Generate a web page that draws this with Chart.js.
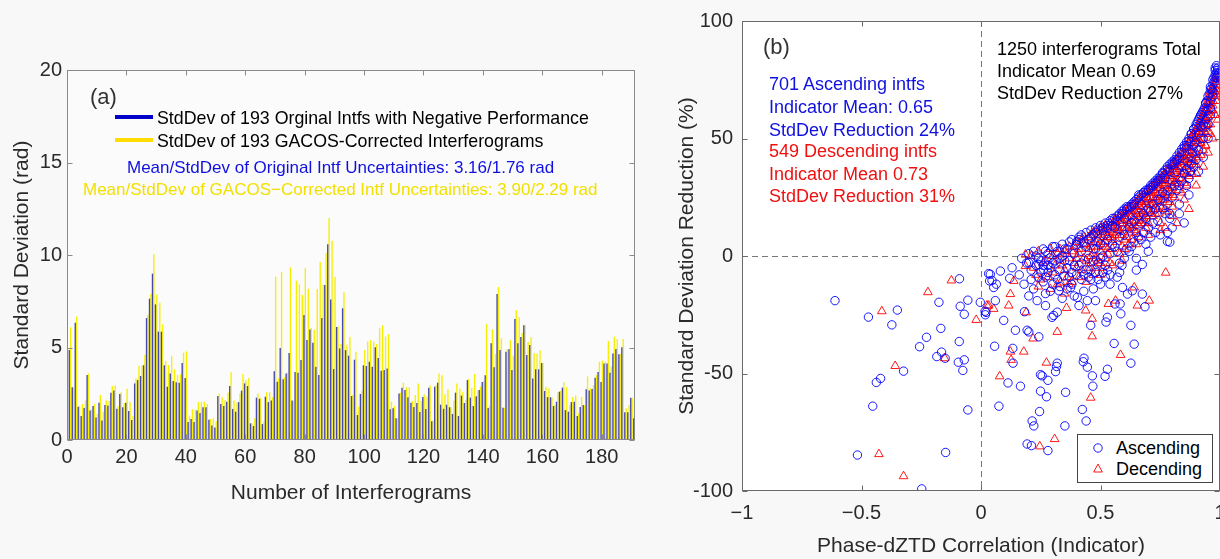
<!DOCTYPE html>
<html><head><meta charset="utf-8">
<script src="https://cdn.jsdelivr.net/npm/chart.js@4.4.1/dist/chart.umd.min.js"></script>
<style>
html,body{margin:0;padding:0;width:1220px;height:559px;overflow:hidden;background:#f8f8f8;}
canvas{position:absolute;top:0;}
#cA{left:0;}
#cB{left:640px;}
.t{position:absolute;white-space:nowrap;font-family:"Liberation Sans",Arial,Helvetica,sans-serif;line-height:1;}
.ln{position:absolute;}
</style></head>
<body>
<canvas id="cA" width="650" height="559"></canvas>
<canvas id="cB" width="600" height="559"></canvas>

<div class="t" style="left:90px;top:86px;font-size:22px;color:#333">(a)</div>
<div class="ln" style="left:115px;top:115px;width:38px;height:4px;background:#0000c8"></div>
<div class="t" style="left:157px;top:110.3px;font-size:17.8px;color:#000">StdDev of 193 Orginal Intfs with Negative Performance</div>
<div class="ln" style="left:115px;top:138px;width:38px;height:4px;background:#ffdd00"></div>
<div class="t" style="left:157px;top:132.5px;font-size:17.8px;color:#000">StdDev of 193 GACOS-Corrected Interferograms</div>
<div class="t" style="left:127px;top:158.5px;font-size:17px;color:#1010e0">Mean/StdDev of Original Intf Uncertainties: 3.16/1.76 rad</div>
<div class="t" style="left:83px;top:180.5px;font-size:17px;color:#f2e000">Mean/StdDev of GACOS−Corrected Intf Uncertainties: 3.90/2.29 rad</div>

<div class="t" style="left:763px;top:36px;font-size:22px;color:#333">(b)</div>
<div class="t" style="left:769px;top:74.5px;font-size:18px;color:#1010e0">701 Ascending intfs</div>
<div class="t" style="left:769px;top:97.9px;font-size:18px;color:#1010e0">Indicator Mean: 0.65</div>
<div class="t" style="left:769px;top:120.5px;font-size:18px;color:#1010e0">StdDev Reduction 24%</div>
<div class="t" style="left:769px;top:141.9px;font-size:18px;color:#f01010">549 Descending intfs</div>
<div class="t" style="left:769px;top:164.5px;font-size:18px;color:#f01010">Indicator Mean 0.73</div>
<div class="t" style="left:769px;top:187.2px;font-size:18px;color:#f01010">StdDev Reduction 31%</div>
<div class="t" style="left:997px;top:39.5px;font-size:18px;color:#000">1250 interferograms Total</div>
<div class="t" style="left:997px;top:61.9px;font-size:18px;color:#000">Indicator Mean 0.69</div>
<div class="t" style="left:997px;top:83.9px;font-size:18px;color:#000">StdDev Reduction 27%</div>

<div style="position:absolute;left:1077px;top:434px;width:134px;height:47px;border:1px solid #444;background:#fff"></div>
<svg style="position:absolute;left:1088px;top:438px" width="20" height="40">
<circle cx="10" cy="10" r="4.2" fill="none" stroke="#0000ff" stroke-width="0.9"/>
<polygon points="10,26 14.3,34 5.7,34" fill="none" stroke="#ff0000" stroke-width="0.9"/>
</svg>
<div class="t" style="left:1116px;top:439.2px;font-size:18px;color:#000">Ascending</div>
<div class="t" style="left:1116px;top:459.5px;font-size:18px;color:#000">Decending</div>

<script>
// ---------- DATA ----------
const origStd = [
4.86,2.85,6.34,1.8,1.3,1.73,3.51,1.59,1.84,1.21,
2.02,1.06,1.89,1.87,2.56,2.68,1.69,2.49,1.77,2.02,
1.57,1.08,3.06,3.24,3.46,4.04,6.59,7.64,8.99,7.33,
5.86,5.86,4.04,2.88,3.6,3.19,3.12,3.1,4.16,3.35,
0.97,1.14,0.97,1.6,1.46,1.77,1.77,1.1,0.79,0.67,
2.38,1.95,1.84,2.07,2.92,1.68,1.53,2.05,2.67,3.06,
2.92,0.9,0.76,2.29,2.23,0.86,2.34,2.05,2.13,3.71,
3.15,4.97,3.28,3.6,4.7,2.13,3.68,3.64,4.32,6.76,
5.41,5.97,5.26,3.96,3.51,6.59,8.38,10.58,7.6,3.84,
6.11,4.95,7.12,4.86,4.56,2.38,4.34,1.35,2.49,4.04,
4.0,4.23,3.96,5.01,4.43,3.75,3.78,3.87,1.66,1.71,
1.17,2.52,2.83,2.7,2.31,2.02,1.78,2.0,1.51,2.32,
1.68,2.83,1.01,2.88,3.1,1.91,1.69,1.91,1.77,1.41,
2.56,1.3,2.4,2.0,3.24,2.29,1.84,2.36,2.7,3.14,
3.5,1.73,5.23,3.93,7.89,4.86,1.75,4.77,4.9,3.78,
6.54,5.23,5.57,6.2,4.59,5.14,3.33,3.82,3.82,4.16,
2.65,2.32,2.31,1.84,2.07,2.61,2.83,1.62,1.53,2.05,
2.07,1.3,1.78,1.89,2.74,2.68,2.76,3.37,3.68,3.14,
4.14,4.14,3.64,4.68,4.92,4.63,5.01,1.5,1.5,2.29,
1.17,1.2,1.3];
const gacosStd = [
6.09,2.85,6.67,1.84,1.95,2.14,3.6,1.66,1.95,1.41,
2.43,1.53,2.14,2.11,2.92,2.95,1.82,2.58,2.0,2.77,
2.05,1.3,3.32,4.0,4.04,4.61,6.77,7.91,10.05,7.87,
7.42,6.25,4.29,4.05,4.54,3.82,3.5,3.55,4.72,4.79,
1.32,1.66,1.64,2.05,2.07,2.07,1.95,1.14,1.17,1.03,
2.52,2.31,2.16,2.56,3.68,2.13,2.02,2.52,3.57,3.21,
3.35,0.9,1.17,2.52,2.27,0.99,2.58,2.58,2.32,8.83,
3.32,9.08,3.39,3.64,9.33,2.13,8.61,8.41,7.84,9.3,
8.18,6.07,5.96,8.16,9.62,8.41,10.09,12.0,10.77,8.81,
6.14,5.19,7.98,5.15,5.57,2.43,4.77,1.8,2.67,4.86,
5.33,5.41,5.32,5.19,6.04,6.2,5.59,5.71,2.07,1.84,
1.17,2.56,3.1,2.85,2.85,2.11,2.43,3.06,2.11,2.47,
2.34,2.95,1.05,2.97,3.6,3.5,2.47,2.74,1.77,2.14,
3.06,2.77,2.58,2.16,3.3,2.81,3.57,2.68,2.88,3.19,
6.27,1.84,5.98,4.65,8.27,5.5,1.75,4.92,5.4,4.56,
7.01,6.63,5.78,6.22,5.3,5.57,4.7,4.68,4.85,4.16,
2.88,2.79,2.31,1.89,2.58,2.67,3.14,2.86,1.89,2.32,
2.4,1.44,2.32,1.89,3.44,2.79,2.97,3.51,4.23,4.29,
4.23,5.35,3.98,5.59,5.46,4.65,5.46,1.71,1.89,2.29,
1.46,1.5,1.6];
const leftXTicks = [0,20,40,60,80,100,120,140,160,180];
const leftYTicks = [0,5,10,15,20];

// [indicator, reduction %]
const ascending = [
[-0.611,-19.0],[-0.471,-26.0],[-0.373,-29.3],[-0.350,-23.0],[-0.228,-34.6],[-0.257,-38.6],[-0.176,-19.7],[-0.168,-30.8],
[-0.165,-40.9],[-0.185,-42.8],[-0.150,-43.5],[-0.090,-9.7],[-0.087,-21.4],[-0.070,-24.8],[-0.055,-18.8],[-0.091,-36.4],
[-0.095,-45.2],[-0.070,-44.2],[-0.076,-48.7],[-0.324,-49.0],[-0.420,-52.1],[-0.438,-53.8],[-0.453,-63.9],[-0.517,-84.7],
[-0.148,-83.6],[-0.248,-99.1],[-0.055,-65.5],[-0.003,-19.7],[0.017,-23.5],[0.018,-25.0],[0.032,-7.5],[0.036,-10.6],
[0.021,-24],[0.039,-7.8],[0.046,-10.4],[0.053,-13.4],[0.064,-12.0],[0.060,-19.0],[0.081,-6.4],[0.095,-27.4],[0.057,-38.4],
[0.075,-63.9],[0.113,-54.0],[0.133,-39.3],[0.134,-45.6],[0.165,-55.4],[0.144,-31.6],[0.120,-9.5],[0.130,-5.0],[0.193,-31.6],
[0.200,-32.3],[0.242,-34.4],[0.182,-23.7],[0.214,-70.2],[0.221,-72.3],[0.245,-66.2],[0.193,-80],[0.211,-80.7],[0.280,-82.8],
[0.249,-50.5],[0.256,-51],[0.280,-52.9],[0.249,-57.5],[0.274,-59.9],[0.319,-45.6],[0.316,-47.0],[0.312,-49.2],[0.354,-58],
[0.351,-72.3],[0.424,-65.3],[0.440,-70.2],[0.431,-43.5],[0.428,-45],[0.445,-47.3],[0.466,-51],[0.468,-55.4],[0.519,-51.2],
[0.529,-48.2],[0.557,-37.2],[0.641,-37.5],[0.627,-45.6],[0.529,-26.1],[0.523,-28.1],[0.627,-29.5],[0.686,-21.6],[0.675,-16.2],
[0.304,-25.3],[0.297,-26.1],[0.319,-23.9],[0.375,-13.4],[0.410,-21.1],[0.459,-29.5],[0.479,-19.0],[0.585,-24.6],[0.560,-20.4],
[0.582,-20.4],[0.592,-13.4],[0.613,-16.2],[0.633,-14.8],[0.675,-3.6],[0.235,-19.0],[0.270,-21.1],[0.326,-14.8],[0.347,-8.5],
[0.403,-17.6],[0.445,-19.0],[0.262,-5.7],[0.200,-2.9],[0.242,-3.6],[0.288,-0.8],[0.850,14.1],[0.780,6.2],[0.790,5.9],
[0.16,-8],[0.18,-12],[0.19,-3],[0.21,-6],[0.22,-14],[0.23,0],[0.24,-9],[0.25,-2],[0.2,-17],[0.17,-1],
[0.26,-11],[0.27,2],[0.28,-7],[0.29,-15],[0.3,-3],[0.31,4],[0.32,-10],[0.33,-1],[0.34,-18],[0.35,3],[0.28,-4],[0.3,-12],[0.33,-6],[0.27,-16],
[0.36,-5],[0.37,6],[0.38,-12],[0.39,1],[0.4,-8],[0.41,7],[0.42,-3],[0.43,-15],[0.44,4],[0.45,-9],[0.37,-2],[0.39,-17],[0.42,2],[0.44,-6],[0.36,-14],[0.4,5],
[0.46,8],[0.47,-2],[0.48,10],[0.49,-10],[0.5,5],[0.51,11],[0.52,-4],[0.53,7],[0.54,-12],[0.55,13],[0.46,-6],[0.48,3],[0.5,-1],[0.52,9],[0.54,1],[0.47,-14],[0.51,-7],[0.53,12],[0.49,6],
[0.56,4],[0.57,15],[0.58,-3],[0.59,18],[0.6,9],[0.61,20],[0.62,2],[0.63,14],[0.64,22],[0.65,-6],[0.56,12],[0.58,8],[0.6,-1],[0.62,17],[0.64,6],[0.57,-9],[0.59,11],[0.61,3],[0.63,21],[0.65,10],[0.6,16],
[0.66,26],[0.67,14],[0.68,27],[0.69,5],[0.7,28],[0.71,19],[0.72,30],[0.73,10],[0.74,32],[0.75,24],[0.66,8],[0.68,18],[0.7,12],[0.72,22],[0.74,15],[0.67,22],[0.69,25],[0.71,29],[0.73,31],[0.75,33],[0.7,2],[0.73,20],
[0.76,35],[0.77,26],[0.78,37],[0.79,18],[0.8,39],[0.81,30],[0.82,41],[0.83,22],[0.84,44],[0.85,35],[0.76,20],[0.78,28],[0.8,32],[0.82,36],[0.84,38],[0.77,33],[0.79,36],[0.81,40],[0.83,42],[0.85,46],[0.8,12],[0.83,30],[0.78,10],
[0.86,47],[0.865,40],[0.87,49],[0.875,36],[0.88,52],[0.885,44],[0.89,54],[0.895,48],[0.9,55],[0.86,30],[0.88,42],[0.9,46],[0.87,33],[0.89,38],
[0.905,57],[0.91,52],[0.915,59],[0.92,55],[0.925,61],[0.93,50],[0.935,63],[0.94,58],[0.945,66],[0.95,62],[0.91,45],[0.93,42],[0.92,60],[0.94,65],[0.95,56],
[0.955,69],[0.96,66],[0.965,71],[0.97,73],[0.975,76],[0.98,79],[0.985,78],[0.99,80],[0.96,72],[0.97,68],[0.975,74],[0.98,77],[0.985,81],[0.99,77],[0.96,60],
[0.2,1],[0.22,2],[0.24,-1],[0.26,3],[0.28,1],[0.3,4],[0.32,2],[0.34,5],[0.36,3],[0.38,7],[0.4,6],[0.21,-10],[0.23,-4],[0.25,-7],[0.27,-9],[0.29,-5],[0.31,-8],[0.33,-13],[0.35,-2],[0.37,-9],[0.39,-4],[0.31,-2],[0.26,-4],[0.38,-7],[0.34,0],
[0.41,8],[0.42,9],[0.43,6],[0.44,10],[0.45,7],[0.46,11],[0.47,9],[0.48,12],[0.49,11],[0.5,13],[0.51,12],[0.52,14],[0.53,13],[0.54,15],[0.55,16],[0.56,16],[0.57,17],[0.58,18],[0.59,19],[0.6,20],
[0.41,-4],[0.43,-8],[0.45,-1],[0.47,3],[0.49,-3],[0.51,0],[0.53,-6],[0.55,5],[0.57,2],[0.59,-4],[0.42,-10],[0.46,-10],[0.5,-12],[0.54,-8],[0.58,-7],[0.48,-7],[0.52,-9],
[0.61,21],[0.62,21],[0.63,22],[0.64,23],[0.65,24],[0.66,25],[0.67,26],[0.68,27],[0.69,28],[0.7,28.5],[0.71,30],[0.72,31],[0.73,32],[0.74,33],[0.75,34],[0.76,35.5],[0.77,36.5],[0.78,38],[0.79,39],[0.8,40],
[0.62,12],[0.64,15],[0.66,17],[0.68,10],[0.7,20],[0.72,14],[0.74,24],[0.76,27],[0.78,22],[0.8,25],[0.63,4],[0.67,7],[0.71,8],[0.75,9],[0.79,16],[0.65,-1],[0.69,16],[0.77,18],
[0.81,41],[0.82,42.5],[0.83,44],[0.84,45.5],[0.85,47],[0.86,48.5],[0.87,50],[0.88,52],[0.89,54],[0.9,56],[0.91,58],[0.92,60],[0.93,62],[0.94,65],[0.95,68],[0.96,71],[0.97,75],[0.98,80],[0.99,79],[0.985,76],[0.995,78],
[0.82,28],[0.84,32],[0.86,37],[0.88,39],[0.9,41],[0.92,50],[0.94,55],[0.96,63],[0.97,70],[0.87,26],[0.91,36],[0.83,18],[0.95,50],[0.93,56],[0.89,47]
];
const descending = [
[-0.124,-10.4],[-0.222,-15.4],[-0.415,-23.5],[-0.020,-27.2],[-0.359,-46.8],[-0.427,-84.3],[-0.324,-93.7],[0.025,-21.1],
[-0.152,-43.5],[0.032,-21.1],[0.053,-22.5],[0.078,-51.2],[0.116,-21.1],[0.123,-40.7],[0.126,-44.2],[0.179,-40.7],[0.123,-16.2],
[0.137,-10.6],[0.189,-24],[0.218,-35.1],[0.274,-45.4],[0.319,-32.3],[0.246,-81],[0.308,-77.9],[0.459,-60.3],[0.465,-34.2],
[0.438,-23.2],[0.465,-26.7],[0.358,-22.1],[0.584,-42.1],[0.533,-20.4],[0.563,-19.0],[0.641,-13.4],[0.654,-21.1],[0.704,-19.0],
[0.773,-7.1],[0.186,-4.3],[0.186,0.6],[0.333,-11.3],[0.368,-12.0],[0.902,34.9],[0.987,70.3],
[0.22,-5],[0.25,-10],[0.27,-2],[0.3,-7],[0.32,1],[0.34,-4],[0.36,-9],[0.38,2],[0.4,-1],[0.29,-14],[0.35,-16],
[0.41,3],[0.42,-6],[0.43,5],[0.44,-2],[0.45,8],[0.46,0],[0.47,6],[0.48,-5],[0.49,9],[0.5,2],[0.51,10],[0.52,4],[0.53,11],[0.54,-3],[0.55,12],[0.44,-11],[0.5,-8],[0.46,4],[0.52,-1],
[0.56,14],[0.57,6],[0.58,16],[0.59,9],[0.6,18],[0.61,12],[0.62,20],[0.63,7],[0.64,22],[0.65,15],[0.66,24],[0.67,18],[0.68,26],[0.69,12],[0.7,27],[0.57,13],[0.59,15],[0.61,17],[0.63,19],[0.65,21],[0.67,23],[0.69,22],[0.6,3],[0.66,8],[0.58,1],
[0.71,29],[0.72,22],[0.73,30],[0.74,26],[0.75,33],[0.76,28],[0.77,35],[0.78,30],[0.79,37],[0.8,34],[0.71,18],[0.73,25],[0.75,21],[0.77,24],[0.79,27],[0.72,28],[0.74,31],[0.76,33],[0.78,36],[0.8,38],[0.75,14],[0.78,19],
[0.81,39],[0.82,35],[0.83,42],[0.84,38],[0.85,44],[0.86,41],[0.87,48],[0.88,45],[0.89,52],[0.9,49],[0.81,31],[0.83,33],[0.85,36],[0.87,39],[0.89,43],[0.82,40],[0.84,43],[0.86,46],[0.88,50],[0.9,54],[0.84,27],[0.88,35],
[0.91,53],[0.915,57],[0.92,55],[0.925,59],[0.93,61],[0.935,58],[0.94,64],[0.945,62],[0.95,67],[0.955,65],[0.96,70],[0.965,68],[0.97,72],[0.975,71],[0.98,75],[0.985,74],[0.99,73],[0.92,48],[0.94,52],[0.96,60],[0.95,56],[0.97,66],[0.98,70],[0.93,45],
[0.21,0],[0.23,-8],[0.24,2],[0.26,-3],[0.28,-9],[0.29,3],[0.31,-4],[0.33,3],[0.35,-6],[0.37,4],[0.39,-3],[0.41,-9],[0.43,-1],[0.45,-5],[0.24,-13],[0.32,-12],[0.4,6],[0.36,1],[0.42,7],[0.38,-11],
[0.46,9],[0.47,1],[0.48,11],[0.49,-2],[0.5,12],[0.51,5],[0.52,13],[0.53,1],[0.54,14],[0.55,7],[0.56,15],[0.57,10],[0.58,17],[0.59,4],[0.6,19],[0.47,-8],[0.51,-5],[0.55,-4],[0.59,-2],[0.49,4],[0.53,8],[0.57,11],[0.48,-1],
[0.61,19],[0.62,14],[0.63,21],[0.64,17],[0.65,23],[0.66,19],[0.67,25],[0.68,21],[0.69,27],[0.7,24],[0.71,28],[0.72,25],[0.73,31],[0.74,29],[0.75,32],
[0.61,8],[0.63,12],[0.65,10],[0.67,14],[0.69,17],[0.71,22],[0.73,18],[0.75,26],[0.62,5],[0.64,11],[0.66,13],[0.68,16],[0.7,14],[0.72,17],[0.74,20],
[0.76,34],[0.77,30],[0.78,37],[0.79,33],[0.8,39],[0.81,36],[0.82,41],[0.83,38],[0.84,44],[0.85,41],[0.86,47],[0.87,44],[0.88,51],
[0.76,24],[0.78,27],[0.8,29],[0.82,32],[0.84,35],[0.86,38],[0.88,41],[0.77,20],[0.79,23],[0.81,25],[0.83,28],[0.85,31],[0.87,34],[0.8,21],[0.86,30],
[0.89,50],[0.9,53],[0.91,55],[0.92,58],[0.93,59],[0.94,62],[0.95,65],[0.96,68],[0.97,71],[0.98,74],[0.985,77],[0.99,76],
[0.9,44],[0.91,48],[0.92,52],[0.93,54],[0.94,58],[0.95,61],[0.96,65],[0.97,69],[0.89,40],[0.91,42],[0.93,50],[0.95,53],[0.97,62],[0.98,68],[0.96,56],[0.94,47],
[0.5,12],[0.52,13],[0.54,14],[0.56,15.5],[0.58,17],[0.6,19],[0.62,20.5],[0.64,22],[0.66,24],[0.68,26],[0.7,27.5],[0.72,29.5],[0.74,32],[0.76,34],[0.78,36.5],[0.8,39],[0.82,41.5],[0.84,44],[0.86,47],[0.88,50.5],[0.9,54],[0.92,58.5],[0.94,63],[0.96,69],[0.98,76],
[0.51,8],[0.53,9],[0.55,10],[0.57,12],[0.59,14],[0.61,15],[0.63,17],[0.65,18],[0.67,20],[0.69,23],[0.71,25],[0.73,27],[0.75,29],[0.77,31],[0.79,34],[0.81,35],[0.83,37],[0.85,40],[0.87,42],[0.89,46],[0.91,50],[0.93,55],[0.95,59],[0.97,64],[0.99,70],
[0.52,6],[0.54,8],[0.56,9],[0.58,11],[0.6,12],[0.62,13],[0.64,14],[0.66,15],[0.68,18],[0.7,19],[0.72,20],[0.74,23],[0.76,25],[0.78,26],[0.8,30],[0.82,31],[0.84,33],[0.86,35],[0.88,37],[0.9,39],[0.92,43],[0.94,47],[0.96,52],[0.98,60],
[0.605,16],[0.625,10],[0.645,19],[0.665,21],[0.685,14],[0.705,22],[0.725,24],[0.745,18],[0.765,30],[0.785,32],[0.805,26],[0.825,38],[0.845,40],[0.865,43],[0.885,44],[0.905,48],[0.925,52],[0.945,56],[0.965,62],[0.985,66],
[0.55,3],[0.6,7],[0.65,5],[0.7,9],[0.75,11],[0.8,17],[0.85,24],[0.9,30],[0.95,44],[0.97,50],[0.99,58],[0.93,38],[0.87,20],[0.82,14],[0.77,12],
[0.3,0],[0.33,-2],[0.35,2],[0.37,-1],[0.39,4],[0.41,1],[0.43,8],[0.45,3],[0.47,10],[0.49,7],[0.4,-5],[0.44,5],[0.48,6],[0.46,-3],[0.5,-3],[0.53,3]
];
const rightXTicks = [-1,-0.5,0,0.5,1];
const rightXLabels = ['\u22121','\u22120.5','0','0.5','1'];
const rightYTicks = [-100,-50,0,50,100];
const rightYLabels = ['-100','-50','0','50','100'];

// ---------- STYLE ----------
const FONT = '"Liberation Sans", Arial, Helvetica, sans-serif';
const TXT = '#2a2a2a';

const framePlugin = {
  id: 'frame',
  beforeDraw(chart, args, o) {
    const a = chart.chartArea, ctx = chart.ctx;
    if (o.bg) { ctx.save(); ctx.fillStyle = o.bg; ctx.fillRect(a.left, a.top, a.right - a.left, a.bottom - a.top); ctx.restore(); }
  },
  beforeDatasetsDraw(chart, args, o) {
    if (!o.zeroLines) return;
    const a = chart.chartArea, ctx = chart.ctx;
    const x0 = Math.round(chart.scales.x.getPixelForValue(0)) + 0.5;
    const y0 = Math.round(chart.scales.y.getPixelForValue(0)) + 0.5;
    ctx.save(); ctx.strokeStyle = '#777'; ctx.lineWidth = 1; ctx.setLineDash([6, 4]);
    ctx.beginPath(); ctx.moveTo(x0, a.top); ctx.lineTo(x0, a.bottom); ctx.stroke();
    ctx.beginPath(); ctx.moveTo(a.left, y0); ctx.lineTo(a.right, y0); ctx.stroke();
    ctx.restore();
  },
  afterDraw(chart, args, o) {
    const a = chart.chartArea, ctx = chart.ctx;
    const L = Math.round(a.left) + 0.5, R = Math.round(a.right) - 0.5, T = Math.round(a.top) + 0.5, B = Math.round(a.bottom) - 0.5;
    ctx.save(); ctx.strokeStyle = o.color; ctx.lineWidth = 1; ctx.setLineDash([]);
    ctx.strokeRect(L, T, R - L, B - T);
    const tl = o.tick;
    ctx.beginPath();
    chart.scales.x.ticks.forEach(t => {
      const px = Math.round(chart.scales.x.getPixelForValue(t.value)) + 0.5;
      ctx.moveTo(px, B); ctx.lineTo(px, B - tl); ctx.moveTo(px, T); ctx.lineTo(px, T + tl);
    });
    chart.scales.y.ticks.forEach(t => {
      const py = Math.round(chart.scales.y.getPixelForValue(t.value)) + 0.5;
      ctx.moveTo(L, py); ctx.lineTo(L + tl, py); ctx.moveTo(R, py); ctx.lineTo(R - tl, py);
    });
    ctx.stroke(); ctx.restore();
  }
};

// ---------- LEFT CHART ----------
new Chart(document.getElementById('cA'), {
  type: 'bar',
  data: {
    datasets: [
      { label: 'StdDev of 193 Orginal Intfs with Negative Performance',
        data: origStd.map((v, i) => ({ x: i + 1, y: v })), backgroundColor: '#4848aa' },
      { label: 'StdDev of 193 GACOS-Corrected Interferograms',
        data: gacosStd.map((v, i) => ({ x: i + 1, y: v })), backgroundColor: '#f7ef00' }
    ]
  },
  options: {
    responsive: false, animation: false, events: [],
    layout: { padding: { left: 0, top: 70, right: 15, bottom: 0 } },
    datasets: { bar: { categoryPercentage: 0.92, barPercentage: 1.0 } },
    scales: {
      x: { type: 'linear', min: 0, max: 191.2, offset: false,
        afterBuildTicks: s => { s.ticks = leftXTicks.map(v => ({ value: v })); },
        afterFit: s => { s.height = 119; },
        grid: { display: false, drawTicks: false }, border: { display: false },
        ticks: { font: { family: FONT, size: 20 }, color: TXT, padding: 5, maxRotation: 0, autoSkip: false },
        title: { display: true, text: 'Number of Interferograms', font: { family: FONT, size: 21 }, color: TXT, padding: { top: 0, bottom: 53 } } },
      y: { min: 0, max: 20,
        afterBuildTicks: s => { s.ticks = leftYTicks.map(v => ({ value: v })); },
        afterFit: s => { s.width = 67; },
        grid: { display: false, drawTicks: false }, border: { display: false },
        ticks: { font: { family: FONT, size: 20 }, color: TXT, padding: 5 },
        title: { display: true, text: 'Standard Deviation (rad)', font: { family: FONT, size: 21 }, color: TXT, padding: { top: 10, bottom: 0 } } }
    },
    plugins: { legend: { display: false }, tooltip: { enabled: false },
      frame: { color: '#8a8a8a', tick: 5, bg: '#fbfbfb' } }
  },
  plugins: [framePlugin]
});

// ---------- RIGHT CHART ----------
new Chart(document.getElementById('cB'), {
  type: 'scatter',
  data: {
    datasets: [
      { label: 'Ascending', data: ascending.map(p => ({ x: p[0], y: p[1] })),
        pointStyle: 'circle', pointRadius: 4.2, borderColor: '#0000ff', backgroundColor: 'rgba(0,0,0,0)', borderWidth: 0.9 },
      { label: 'Decending', data: descending.map(p => ({ x: p[0], y: p[1] })),
        pointStyle: 'triangle', pointRadius: 5, borderColor: '#ff0000', backgroundColor: 'rgba(0,0,0,0)', borderWidth: 0.9 }
    ]
  },
  options: {
    responsive: false, animation: false, events: [],
    layout: { padding: { left: 0, top: 18, right: 20, bottom: 0 } },
    scales: {
      x: { type: 'linear', min: -1, max: 1,
        afterBuildTicks: s => { s.ticks = rightXTicks.map(v => ({ value: v })); },
        afterFit: s => { s.height = 68; },
        grid: { display: false, drawTicks: false }, border: { display: false },
        ticks: { font: { family: FONT, size: 20 }, color: TXT, padding: 10, maxRotation: 0, autoSkip: false,
          callback: v => rightXLabels[rightXTicks.indexOf(v)] },
        title: { display: true, text: 'Phase-dZTD Correlation (Indicator)', font: { family: FONT, size: 21 }, color: TXT, padding: { top: 0, bottom: 0 } } },
      y: { min: -100, max: 100,
        afterBuildTicks: s => { s.ticks = rightYTicks.map(v => ({ value: v })); },
        afterFit: s => { s.width = 102; },
        grid: { display: false, drawTicks: false }, border: { display: false },
        ticks: { font: { family: FONT, size: 20 }, color: TXT, padding: 9,
          callback: v => rightYLabels[rightYTicks.indexOf(v)] },
        title: { display: true, text: 'Standard Deviation Reduction (%)', font: { family: FONT, size: 21 }, color: TXT, padding: { top: 35, bottom: 0 } } }
    },
    plugins: { legend: { display: false }, tooltip: { enabled: false },
      frame: { color: '#6a6a6a', tick: 5, bg: '#ffffff', zeroLines: true } }
  },
  plugins: [framePlugin]
});
</script>
</body></html>
